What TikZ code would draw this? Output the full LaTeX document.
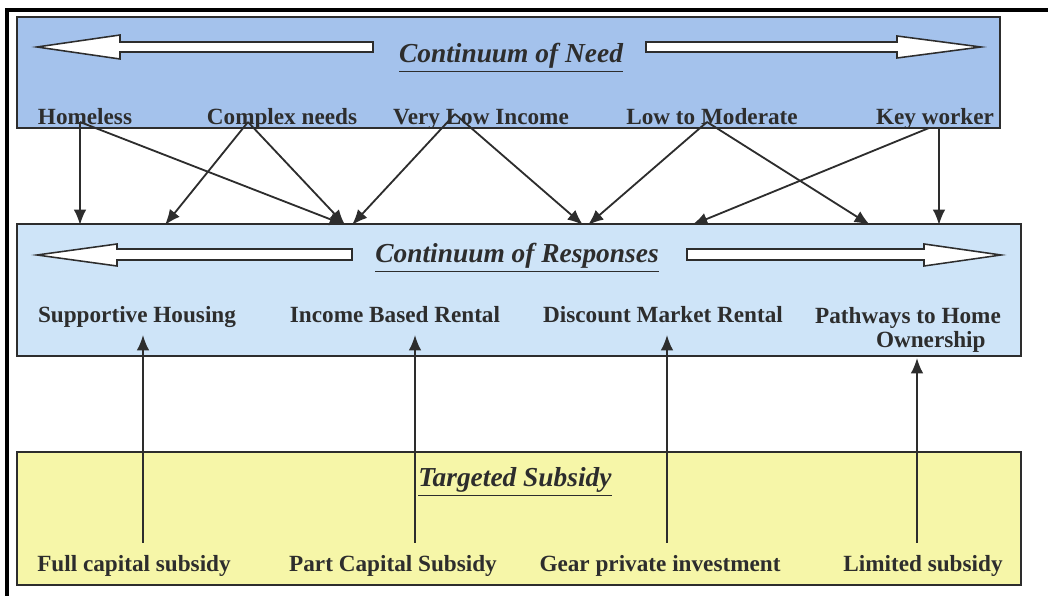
\documentclass[tikz,border=0pt]{standalone}
\usepackage{fontspec}
\setmainfont{Liberation Serif}
\usetikzlibrary{arrows.meta}
\definecolor{needblue}{RGB}{164,194,236}
\definecolor{respblue}{RGB}{206,228,248}
\definecolor{subyellow}{RGB}{246,246,168}
\definecolor{linegray}{RGB}{45,45,45}

\begin{document}
\begin{tikzpicture}[x=0.025cm, y=-0.025cm,
  box/.style={draw=linegray, line width=1.4pt},
  itemtext/.style={anchor=base, inner sep=0pt, text=linegray, font=\fontsize{16.5}{17.7}\selectfont\bfseries},
  heading/.style={anchor=base, inner sep=0pt, text=linegray, font=\fontsize{19.5}{22}\selectfont\bfseries\itshape},
  link/.style={draw=linegray, line width=1.3pt, -{Latex[length=11pt,width=9pt]}},
  hollow/.style={draw=linegray, line width=1.1pt, fill=white}]

\useasboundingbox (0,0) rectangle (1048,596);

% outer frame
\draw[black, line width=2.2pt] (7,596) -- (7,10) -- (1048,10);

% the three bands
\draw[box, fill=needblue] (17,17) rectangle (1000,128);
\draw[box, fill=respblue] (17,224) rectangle (1021,356);
\draw[box, fill=subyellow] (17,452) rectangle (1021,585);

% hollow arrows
\draw[hollow] (373,42) -- (120,42) -- (120,35) -- (37,47) -- (120,59) -- (120,52) -- (373,52) -- cycle;
\draw[hollow] (646,42) -- (897,42) -- (897,36) -- (981,47) -- (897,58) -- (897,52) -- (646,52) -- cycle;
\draw[hollow] (352,249) -- (117,249) -- (117,244) -- (37,255) -- (117,266) -- (117,260) -- (352,260) -- cycle;
\draw[hollow] (687,249) -- (924,249) -- (924,244) -- (1001,255) -- (924,266) -- (924,260) -- (687,260) -- cycle;

% headings
\node[heading] (need) at (511,63) {\underline{Continuum of Need}};
\node[heading] (resp) at (517,263) {\underline{Continuum of Responses}};
\node[heading] (subsidy) at (515,487) {\underline{Targeted Subsidy}};

% needs
\node[itemtext] (homeless) at (85,125) {Homeless};
\node[itemtext] (complex) at (282,125) {Complex needs};
\node[itemtext] (verylow) at (481,125) {Very Low Income};
\node[itemtext] (lowmod) at (712,125) {Low to Moderate};
\node[itemtext] (keyworker) at (935,125) {Key worker};

% responses
\node[itemtext] (supportive) at (137,323) {Supportive Housing};
\node[itemtext] (incomerent) at (395,323) {Income Based Rental};
\node[itemtext] (discountrent) at (663,323) {Discount Market Rental};
\node[itemtext, align=right] (pathways) at (908,348) {Pathways to Home\\Ownership\hspace*{0.38cm}};

% subsidies
\node[itemtext] (fullcap) at (134,572) {Full capital subsidy};
\node[itemtext] (partcap) at (393,572) {Part Capital Subsidy};
\node[itemtext] (gearpriv) at (660,572) {Gear private investment};
\node[itemtext] (limited) at (923,572) {Limited subsidy};

% connector ends
\coordinate (homeless-out) at (80,122);
\coordinate (complex-out) at (248,122);
\coordinate (verylow-out) at (455,114);
\coordinate (lowmod-out) at (707,122);
\coordinate (keyworker-out) at (929,128);
\coordinate (keyworker-down) at (939,128);

\coordinate (r1) at (80,225);
\coordinate (r2) at (165,225);
\coordinate (r3) at (345,225);
\coordinate (r4) at (352,225);
\coordinate (r5) at (583,225);
\coordinate (r6) at (588,225);
\coordinate (r7) at (692,225);
\coordinate (r8) at (870,225);
\coordinate (r9) at (939,225);

\coordinate (supportive-in) at (143,335);
\coordinate (incomerent-in) at (415,335);
\coordinate (discountrent-in) at (667,335);
\coordinate (pathways-in) at (917,358);

\coordinate (fullcap-out) at (143,543);
\coordinate (partcap-out) at (415,543);
\coordinate (gearpriv-out) at (667,543);
\coordinate (limited-out) at (917,543);

% need -> response
\draw[link] (homeless-out) -- (r1);
\draw[link] (homeless-out) -- (r3);
\draw[link] (complex-out) -- (r2);
\draw[link] (complex-out) -- (r3);
\draw[link] (verylow-out) -- (r4);
\draw[link] (verylow-out) -- (r5);
\draw[link] (lowmod-out) -- (r6);
\draw[link] (lowmod-out) -- (r8);
\draw[link] (keyworker-out) -- (r7);
\draw[link] (keyworker-down) -- (r9);

% subsidy -> response
\draw[link] (fullcap-out) -- (supportive-in);
\draw[link] (partcap-out) -- (incomerent-in);
\draw[link] (gearpriv-out) -- (discountrent-in);
\draw[link] (limited-out) -- (pathways-in);

\end{tikzpicture}
\end{document}
